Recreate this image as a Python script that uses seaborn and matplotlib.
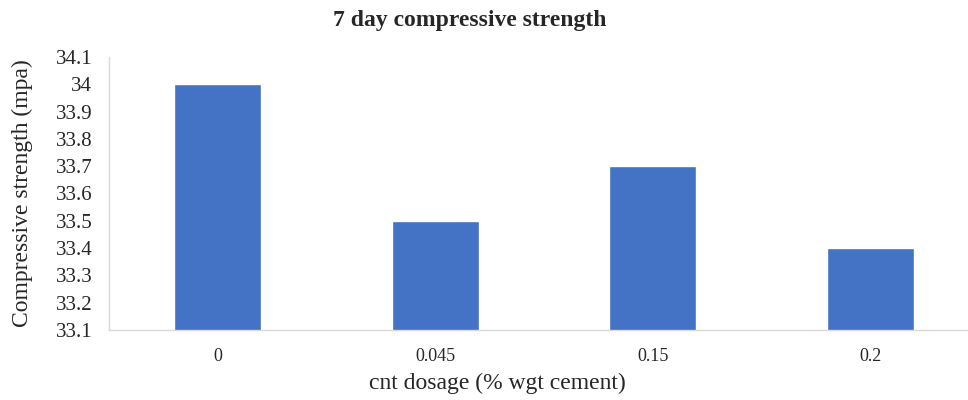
import matplotlib
matplotlib.use("Agg")
import matplotlib.pyplot as plt
import seaborn as sns
import pandas as pd

dosage = ["0", "0.045", "0.15", "0.2"]
strength = [34.0, 33.5, 33.7, 33.4]
yticks = [33.1, 33.2, 33.3, 33.4, 33.5, 33.6, 33.7, 33.8, 33.9, 34.0, 34.1]
ytick_labels = ["33.1", "33.2", "33.3", "33.4", "33.5", "33.6", "33.7", "33.8", "33.9", "34", "34.1"]

sns.set_theme(style="white")
plt.rcParams["font.family"] = ["Liberation Serif", "DejaVu Serif"]

df = pd.DataFrame({"dosage": dosage, "strength": strength})

fig = plt.figure(figsize=(9.68, 4.0), dpi=100)
ax = fig.add_axes([109 / 968, 1 - 330 / 400, 870 / 968, (330 - 57) / 400])

sns.barplot(data=df, x="dosage", y="strength", color="#4472C4", width=0.4,
            saturation=1, ax=ax)

ax.set_ylim(33.1, 34.1)
ax.set_yticks(yticks)
ax.set_yticklabels(ytick_labels, fontsize=15)
ax.tick_params(axis="x", labelsize=13, length=0, pad=13)
ax.tick_params(axis="y", length=0, pad=12)

for side in ["top", "right"]:
    ax.spines[side].set_visible(False)
for side in ["left", "bottom"]:
    ax.spines[side].set_color("#D9D9D9")
    ax.spines[side].set_linewidth(1.0)

ax.set_xlabel("cnt dosage (% wgt cement)", fontsize=17)
ax.xaxis.set_label_coords((497 - 109) / 870, (330 - 373) / 273)
ax.set_ylabel("Compressive strength (mpa)", fontsize=17, labelpad=16)
fig.suptitle("7 day compressive strength", fontsize=17, fontweight="bold",
             x=470 / 968, y=0.975)

fig.savefig("out.png", dpi=100)
